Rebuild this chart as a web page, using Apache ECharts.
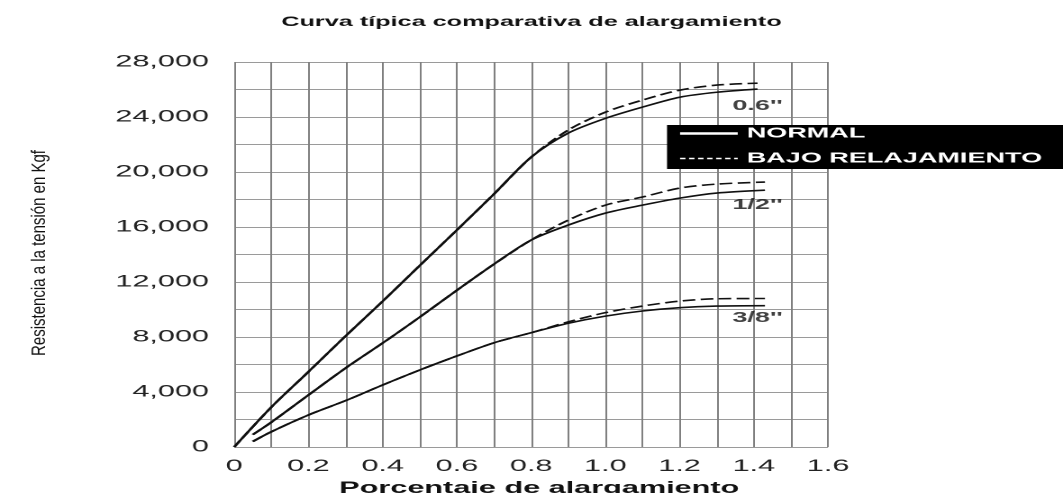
<!DOCTYPE html>
<html>
<head>
<meta charset="utf-8">
<title>Curva típica comparativa de alargamiento</title>
<script src="https://cdn.jsdelivr.net/npm/echarts@6.0.0/dist/echarts.min.js"></script>
<style>
html, body { margin:0; padding:0; background:#fff; overflow:hidden; }
#wrap { width:1063px; height:493px; overflow:hidden; }
/* the original scan is stretched sideways, so the chart is drawn narrow and widened */
#chart { width:590px; height:493px; transform:scaleX(1.80169); transform-origin:0 0; }
</style>
</head>
<body>
<div id="wrap"><div id="chart"></div></div>
<script>
var stretch = 1063 / 590;
var font = '"Liberation Sans", Arial, sans-serif';

// porcentaje de alargamiento / resistencia (kgf)
var x06      = [0, 0.1, 0.2, 0.3, 0.4, 0.5, 0.6, 0.7, 0.8, 0.9, 1.0, 1.1, 1.2, 1.3, 1.41];
var normal06 = [0, 2900, 5470, 8070, 10600, 13200, 15780, 18400, 21080, 22830, 23900, 24720, 25440, 25800, 26030];
var bajo06   = [0, 2900, 5470, 8070, 10600, 13200, 15780, 18400, 21080, 23050, 24350, 25230, 25950, 26320, 26460];

var x12      = [0.05, 0.1, 0.2, 0.3, 0.4, 0.5, 0.6, 0.7, 0.8, 0.9, 1.0, 1.1, 1.2, 1.3, 1.43];
var normal12 = [900, 1800, 3780, 5740, 7560, 9450, 11400, 13300, 15050, 16140, 17010, 17590, 18100, 18470, 18680];
var bajo12   = [900, 1800, 3780, 5740, 7560, 9450, 11400, 13300, 15050, 16500, 17590, 18180, 18830, 19120, 19270];

var x38      = [0.05, 0.1, 0.2, 0.3, 0.4, 0.5, 0.6, 0.7, 0.8, 0.9, 1.0, 1.1, 1.2, 1.3, 1.43];
var normal38 = [400, 1110, 2330, 3370, 4510, 5600, 6620, 7580, 8310, 9000, 9520, 9890, 10130, 10250, 10280];
var bajo38   = [400, 1110, 2330, 3370, 4510, 5600, 6620, 7580, 8310, 9100, 9770, 10250, 10610, 10780, 10800];

var sizeLabels = ["0.6''", "1/2''", "3/8''"];
var sizeLabelX = [1.41, 1.41, 1.41];
var sizeLabelY = [24800, 17600, 9380];

function pts(xs, ys) {
    return xs.map(function (x, i) { return [x, ys[i]]; });
}

function curve(name, xs, ys, dashed) {
    return {
        type: 'line', name: name, data: pts(xs, ys),
        symbol: 'none', smooth: 0.3, silent: true,
        itemStyle: { color: '#111' },
        lineStyle: { color: '#111', width: 1.6, type: dashed ? [7, 3] : 'solid' }
    };
}

var chart = echarts.init(document.getElementById('chart'), null, { devicePixelRatio: 2 });

chart.setOption({
    animation: false,
    textStyle: { fontFamily: font },
    title: {
        text: 'Curva típica comparativa de alargamiento',
        left: 'center', top: 10,
        textStyle: { fontSize: 14, fontWeight: 'bold', color: '#111', fontFamily: font }
    },
    legend: {
        orient: 'vertical', left: 667 / stretch, top: 125,
        backgroundColor: '#000', padding: [1, 20, 3, 6],
        itemGap: 10, itemWidth: 32, itemHeight: 14, selectedMode: false,
        textStyle: { color: '#fff', fontSize: 15, fontWeight: 'bold', fontFamily: font },
        data: [
            { name: 'NORMAL', itemStyle: { opacity: 0 },
              lineStyle: { color: '#fff', width: 2.5, type: 'solid' } },
            { name: 'BAJO RELAJAMIENTO', itemStyle: { opacity: 0 },
              lineStyle: { color: '#fff', width: 1.5, type: [3, 2] } }
        ]
    },
    grid: { left: 130, right: 130.4, top: 62, bottom: 46, outerBoundsMode: 'none' },
    xAxis: {
        type: 'value', min: 0, max: 1.6, interval: 0.1,
        axisLine: { show: false }, axisTick: { show: false },
        axisLabel: {
            margin: 11, fontSize: 17, color: '#222',
            formatter: function (v) {
                var t = Math.round(v * 10);
                if (t % 2) return '';
                return t === 0 ? '0' : (t / 10).toFixed(1);
            }
        },
        splitLine: { lineStyle: { color: '#808080', width: 1 } },
        name: 'Porcentaje de alargamiento', nameLocation: 'middle', nameGap: 32,
        nameTextStyle: { fontSize: 17, fontWeight: 'bold', color: '#111', padding: [0, 0, 0, 9] }
    },
    yAxis: {
        type: 'value', min: 0, max: 28000, interval: 2000,
        axisLine: { show: false }, axisTick: { show: false },
        axisLabel: {
            margin: 14, fontSize: 17, color: '#222',
            formatter: function (v) { return v % 4000 === 0 ? v.toLocaleString('en-US') : ''; }
        },
        splitLine: { lineStyle: { color: '#9a9a9a', width: 1 } }
    },
    graphic: [{
        type: 'text', x: 40 / stretch, y: 253, rotation: Math.PI / 2, scaleY: 1.3 / stretch,
        style: {
            text: 'Resistencia a la tensión en Kgf', font: '15px "Liberation Sans"',
            fill: '#111', align: 'center', verticalAlign: 'middle'
        }
    }],
    series: [
        curve('NORMAL', x06, normal06, false),
        curve('BAJO RELAJAMIENTO', x06, bajo06, true),
        curve('NORMAL', x12, normal12, false),
        curve('BAJO RELAJAMIENTO', x12, bajo12, true),
        curve('NORMAL', x38, normal38, false),
        curve('BAJO RELAJAMIENTO', x38, bajo38, true),
        {
            type: 'scatter', name: 'etiquetas', silent: true, symbolSize: 1,
            itemStyle: { color: 'transparent' },
            data: sizeLabels.map(function (t, i) { return [sizeLabelX[i], sizeLabelY[i], t]; }),
            label: {
                show: true, position: 'inside', fontSize: 15, fontWeight: 'bold', color: '#111',
                formatter: function (p) { return p.data[2]; }
            }
        }
    ]
});
</script>
</body>
</html>
